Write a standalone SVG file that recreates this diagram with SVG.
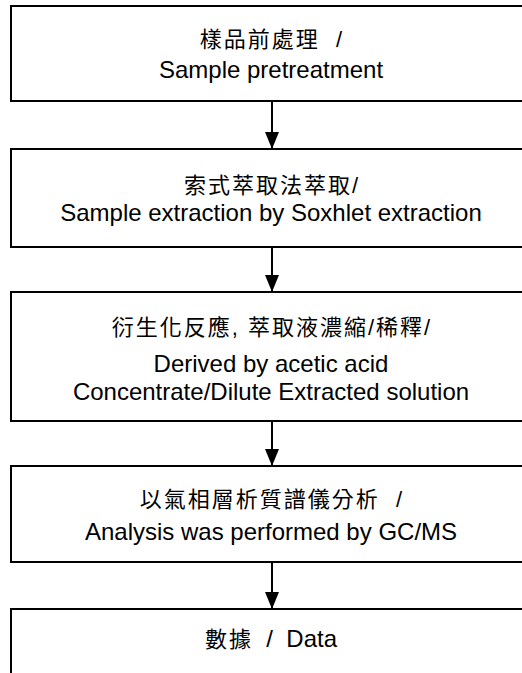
<svg xmlns="http://www.w3.org/2000/svg" width="522" height="673" viewBox="0 0 522 673">
<style>
.box{fill:#fff;stroke:#000;stroke-width:2}
.t{font-family:"Liberation Sans","Noto Sans CJK TC",sans-serif;font-size:24px;fill:#000;text-anchor:middle}
.c{font-size:22px;letter-spacing:2px}
.conn{stroke:#000;stroke-width:2;fill:none;marker-end:url(#ah)}
</style>
<defs>
<marker id="ah" markerUnits="userSpaceOnUse" markerWidth="17" markerHeight="14" refX="17" refY="7" orient="auto" viewBox="0 0 17 14">
<path d="M0,0 L17,7 L0,14 Z" fill="#000"/>
</marker>
</defs>
<rect width="522" height="673" fill="#fff"/>
<g id="n1">
<rect class="box" x="11" y="6" width="530" height="95"/>
<text class="t c" x="272" y="47" xml:space="preserve">樣品前處理  /</text>
<text class="t" x="271" y="78">Sample pretreatment</text>
</g>
<g id="n2">
<rect class="box" x="11" y="149" width="530" height="98"/>
<text class="t c" x="272" y="193">索式萃取法萃取/</text>
<text class="t" x="271" y="221">Sample extraction by Soxhlet extraction</text>
</g>
<g id="n3">
<rect class="box" x="11" y="292" width="530" height="129"/>
<text class="t c" x="272" y="335">衍生化反應, 萃取液濃縮/稀釋/</text>
<text class="t" x="271" y="372">Derived by acetic acid</text>
<text class="t" x="271" y="400">Concentrate/Dilute Extracted solution</text>
</g>
<g id="n4">
<rect class="box" x="11" y="466" width="530" height="96"/>
<text class="t c" x="272" y="507" xml:space="preserve">以氣相層析質譜儀分析  /</text>
<text class="t" x="271" y="540">Analysis was performed by GC/MS</text>
</g>
<g id="n5">
<rect class="box" x="11" y="609" width="530" height="80"/>
<text class="t" x="271" y="647" xml:space="preserve"><tspan class="c">數據</tspan>  /  Data</text>
</g>
<g id="connectors">
<path class="conn" d="M272,102 V149"/>
<path class="conn" d="M272,248 V292"/>
<path class="conn" d="M272,422 V466"/>
<path class="conn" d="M272,563 V609"/>
</g>
</svg>
